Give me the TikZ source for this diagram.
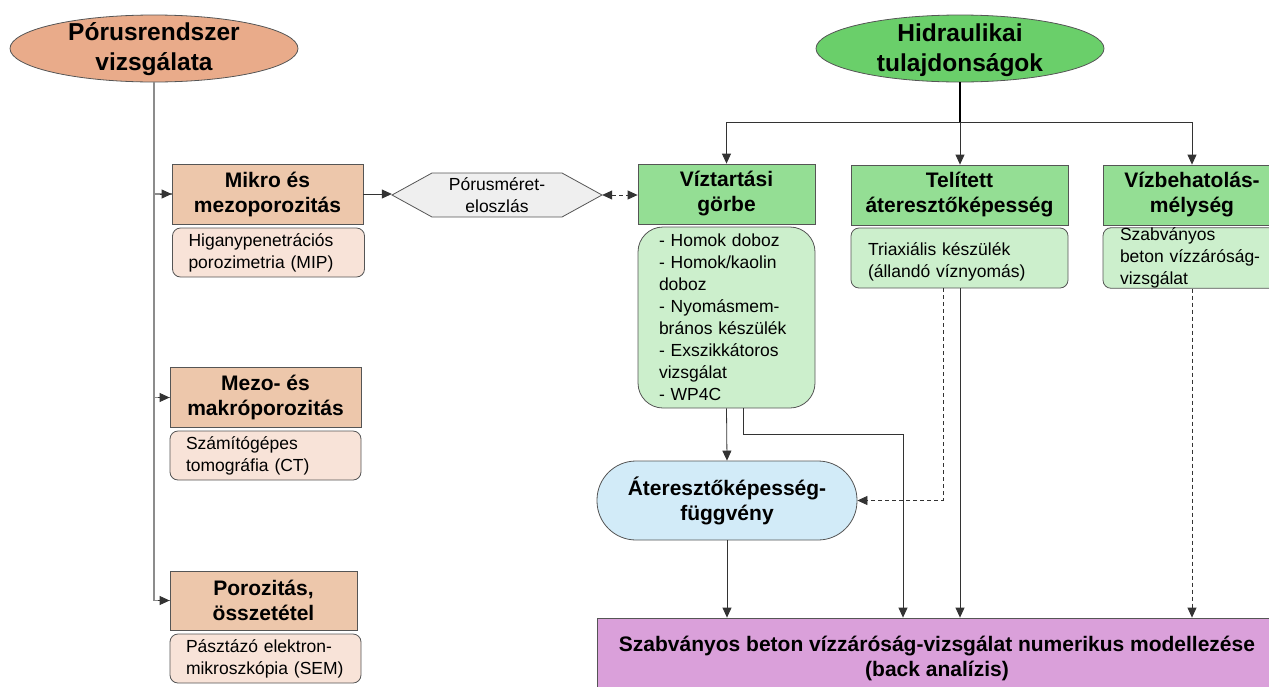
\documentclass[tikz,border=0pt]{standalone}
\usepackage{fontspec}
\setmainfont{Liberation Sans}
\usetikzlibrary{shapes.geometric,arrows.meta,calc}
\definecolor{ellL}{RGB}{233,171,138}
\definecolor{boxO}{RGB}{237,199,171}
\definecolor{subO}{RGB}{248,227,216}
\definecolor{ellR}{RGB}{106,207,106}
\definecolor{boxG}{RGB}{148,222,148}
\definecolor{subG}{RGB}{204,239,204}
\definecolor{hexF}{RGB}{239,239,239}
\definecolor{blueF}{RGB}{210,235,248}
\definecolor{purF}{RGB}{218,160,218}
\definecolor{edge}{RGB}{85,85,85}
\begin{document}
\begin{tikzpicture}[x=1pt,y=-1pt,
  ttl/.style={font=\fontsize{21}{25}\selectfont\bfseries},
  big/.style={font=\fontsize{24.5}{30}\selectfont\bfseries},
  sml/.style={font=\fontsize{17.5}{22}\selectfont},
  hbox/.style={draw=edge, line width=0.8pt, rectangle, inner sep=0pt, align=center, ttl},
  sbox/.style={draw=edge, line width=0.8pt, rectangle, rounded corners=8pt, inner ysep=0pt, align=left, sml},
  ellbox/.style={ellipse, draw=edge, line width=0.8pt, minimum width=288, minimum height=67, inner sep=0pt},
  conn/.style={draw=black!80, line width=0.8pt},
  lconn/.style={draw=black!45, line width=1.3pt},
  arr/.style={-{Triangle[length=10pt,width=9pt]}},
  darr/.style={{Triangle[length=10pt,width=9pt]}-{Triangle[length=10pt,width=9pt]}},
  dsh/.style={dash pattern=on 4pt off 3pt}
]
\clip (0,0) rectangle (1269,686);
\useasboundingbox (0,0) rectangle (1269,686);

% left column
\node[ellbox, fill=ellL] (porE) at (154,48.5) {};
\node[big, align=center] (porT) at (154,49) {Pórusrendszer\\vizsgálata};

\node[hbox, fill=boxO, minimum width=191, minimum height=60] (mikro) at (267.5,194) {Mikro és\\mezoporozitás};
\node[sbox, fill=subO, minimum height=49, text width=160, inner xsep=16] (mikroS) at (268.5,252.5) {Higanypenetrációs\\porozimetria (MIP)};

\node[hbox, fill=boxO, minimum width=191, minimum height=60] (mezo) at (265.5,397.5) {Mezo- és\\makróporozitás};
\node[sbox, fill=subO, minimum height=49, text width=159, inner xsep=16] (mezoS) at (265.5,455.5) {Számítógépes\\tomográfia (CT)};

\node[hbox, fill=boxO, minimum width=187, minimum height=59] (poro) at (263.5,600.5) {Porozitás,\\összetétel};
\node[sbox, fill=subO, minimum height=49, text width=159, inner xsep=16] (poroS) at (265.5,658.5) {Pásztázó elektron-\\mikroszkópia (SEM)};

% hexagon
\node[sml, align=center, minimum width=210, minimum height=44, inner sep=0pt] (hex) at (497,195) {};
\fill[hexF] (392,195) -- (432,173) -- (562,173) -- (602,195) -- (562,217) -- (432,217) -- cycle;
\draw[edge, line width=0.8pt] (392,195) -- (432,173) -- (562,173) -- (602,195) -- (562,217) -- (432,217) -- cycle;
\node[sml, align=center] (hexT) at (497,195.5) {Pórusméret-\\eloszlás};

% right side
\node[ellbox, fill=ellR] (hidE) at (960,48.5) {};
\node[big, align=center] (hidT) at (960,50) {Hidraulikai\\tulajdonságok};

\node[hbox, fill=boxG, minimum width=177, minimum height=60] (vt) at (726.5,194) {Víztartási\\görbe};
\node[draw=edge, line width=0.8pt, rectangle, rounded corners=25pt, fill=subG, sml, align=left, minimum height=181, text width=135, inner xsep=21, inner ysep=0pt] (vtS) at (726.5,317.5)
  {- Homok doboz\\- Homok/kaolin\\doboz\\- Nyomásmem-\\brános készülék\\- Exszikkátoros\\vizsgálat\\- WP4C};

\node[hbox, fill=boxG, minimum width=217, minimum height=60] (tel) at (959.5,195) {Telített\\áteresztőképesség};
\node[sbox, fill=subG, minimum width=217, minimum height=60] (telS) at (959.5,258) {};
\node[sml, align=left, text width=183, inner xsep=0pt] (telT) at (959.5,261.5) {Triaxiális készülék\\(állandó víznyomás)};

\node[hbox, fill=boxG, minimum width=178, minimum height=60] (vb) at (1192,195) {Vízbehatolás-\\mélység};
\node[sbox, fill=subG, minimum height=60, text width=144, inner xsep=17] (vbS) at (1192,258) {Szabványos\\beton vízzáróság-\\vizsgálat};

\node[draw=edge, line width=0.8pt, rectangle, rounded corners=39pt, fill=blueF, ttl, align=center, minimum width=260, minimum height=79, inner sep=0pt] (ater) at (727,500.5) {Áteresztőképesség-\\függvény};

\node[draw=edge, line width=0.8pt, rectangle, fill=purF, ttl, align=center, minimum width=680, minimum height=80, inner sep=0pt] (pur) at (937,658) {Szabványos beton vízzáróság-vizsgálat numerikus modellezése\\(back analízis)};

% connectors left
\draw[lconn] (porE.south) |- (mikro.west);
\draw[lconn] (porE.south) |- (mezo.west);
\draw[lconn] (porE.south) |- (poro.west);
\draw[conn, arr] ([xshift=-12pt]mikro.west) -- (mikro.west);
\draw[conn, arr] ([xshift=-12pt]mezo.west) -- (mezo.west);
\draw[conn, arr] ([xshift=-12pt]poro.west) -- (poro.west);

\draw[conn, arr] (mikro.east) -- (mikro.east -| hex.west);
\draw[conn, darr, dsh] (hex.east) -- (hex.east -| vt.west);

% connectors right
\coordinate (j) at (960,122);
\draw[draw=black, line width=1.2pt] (hidE.south) -- (j);
\draw[conn, arr] (j) -- (j |- tel.north);
\draw[conn, arr] (j) -| (vt.north);
\draw[conn, arr] (j) -| (vb.north);

\draw[conn, arr] (vtS.south) -- (ater.north);
\coordinate (k1) at (903,434);
\draw[conn, arr] ([xshift=16.5pt]vtS.south) |- (k1) -- (k1 |- pur.north);

\coordinate (k2) at (943,500);
\draw[conn, arr, dsh] (k2 |- telS.south) |- (ater.east);
\draw[conn, arr] (j |- telS.south) -- (j |- pur.north);
\draw[conn, arr] (ater.south) -- (ater.south |- pur.north);
\draw[conn, arr, dsh] (vbS.south) -- (vbS.south |- pur.north);
\end{tikzpicture}
\end{document}
